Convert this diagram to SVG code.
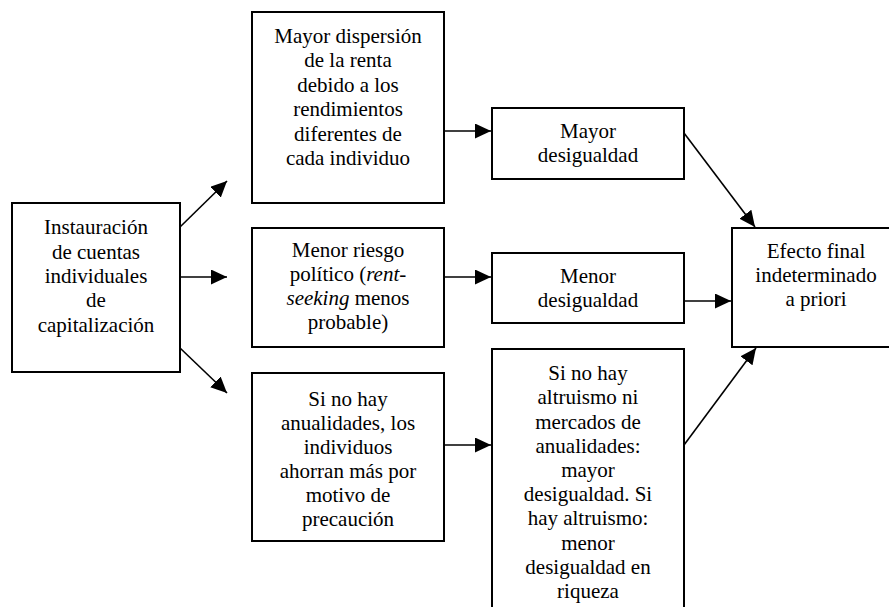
<svg xmlns="http://www.w3.org/2000/svg" width="889" height="607" viewBox="0 0 889 607">
<style>
.box{fill:#fff;stroke:#000;stroke-width:2}
.t{font-family:'Liberation Serif','Times New Roman',serif;font-size:21px;fill:#000;text-anchor:middle}
.i{font-style:italic}
.c{stroke:#000;stroke-width:1.6;fill:none;marker-end:url(#ah)}
</style>
<defs>
<marker id="ah" markerUnits="userSpaceOnUse" markerWidth="17" markerHeight="15" refX="16" refY="7.5" orient="auto">
<path d="M0,0 L16,7.5 L0,15 z" fill="#000"/>
</marker>
</defs>
<rect width="889" height="607" fill="#fff"/>
<g id="connectors">
<line class="c" x1="180" y1="227" x2="227" y2="181"/>
<line class="c" x1="180" y1="277" x2="227" y2="277"/>
<line class="c" x1="180" y1="348" x2="227" y2="393"/>
<line class="c" x1="444" y1="131" x2="491" y2="131"/>
<line class="c" x1="444" y1="277" x2="491" y2="277"/>
<line class="c" x1="444" y1="445" x2="491" y2="445"/>
<line class="c" x1="684" y1="133" x2="755" y2="227"/>
<line class="c" x1="684" y1="301" x2="731" y2="301"/>
<line class="c" x1="684" y1="445" x2="756" y2="348"/>
</g>
<g id="n-instauracion">
<rect class="box" x="12" y="203" width="168" height="169"/>
<text class="t" x="96" y="234">Instauración</text>
<text class="t" x="96" y="258.5">de cuentas</text>
<text class="t" x="96" y="283">individuales</text>
<text class="t" x="96" y="307">de</text>
<text class="t" x="96" y="331.5">capitalización</text>
</g>
<g id="n-dispersion">
<rect class="box" x="252" y="12" width="192" height="191"/>
<text class="t" x="348" y="42.5">Mayor dispersión</text>
<text class="t" x="348" y="67">de la renta</text>
<text class="t" x="348" y="91.5">debido a los</text>
<text class="t" x="348" y="116">rendimientos</text>
<text class="t" x="348" y="140.5">diferentes de</text>
<text class="t" x="348" y="165">cada individuo</text>
</g>
<g id="n-riesgo">
<rect class="box" x="252" y="228" width="192" height="119"/>
<text class="t" x="348" y="257">Menor riesgo</text>
<text class="t" x="348" y="281">político (<tspan class="i">rent-</tspan></text>
<text class="t" x="348" y="305"><tspan class="i">seeking</tspan> menos</text>
<text class="t" x="348" y="329">probable)</text>
</g>
<g id="n-anualidades">
<rect class="box" x="252" y="373" width="192" height="168"/>
<text class="t" x="348" y="406">Si no hay</text>
<text class="t" x="348" y="430">anualidades, los</text>
<text class="t" x="348" y="454">individuos</text>
<text class="t" x="348" y="478">ahorran más por</text>
<text class="t" x="348" y="502">motivo de</text>
<text class="t" x="348" y="526">precaución</text>
</g>
<g id="n-mayor">
<rect class="box" x="492" y="108" width="192" height="71"/>
<text class="t" x="588" y="138">Mayor</text>
<text class="t" x="588" y="162">desigualdad</text>
</g>
<g id="n-menor">
<rect class="box" x="492" y="253" width="192" height="70"/>
<text class="t" x="588" y="283">Menor</text>
<text class="t" x="588" y="307">desigualdad</text>
</g>
<g id="n-altruismo">
<rect class="box" x="492" y="349" width="192" height="275"/>
<text class="t" x="588" y="380">Si no hay</text>
<text class="t" x="588" y="404">altruismo ni</text>
<text class="t" x="588" y="428.5">mercados de</text>
<text class="t" x="588" y="452.5">anualidades:</text>
<text class="t" x="588" y="477">mayor</text>
<text class="t" x="588" y="501">desigualdad. Si</text>
<text class="t" x="588" y="525">hay altruismo:</text>
<text class="t" x="588" y="549.5">menor</text>
<text class="t" x="588" y="573.5">desigualdad en</text>
<text class="t" x="588" y="598">riqueza</text>
</g>
<g id="n-efecto">
<rect class="box" x="732" y="228" width="170" height="119"/>
<text class="t" x="816" y="258">Efecto final</text>
<text class="t" x="816" y="282">indeterminado</text>
<text class="t" x="816" y="306">a priori</text>
</g>
</svg>
